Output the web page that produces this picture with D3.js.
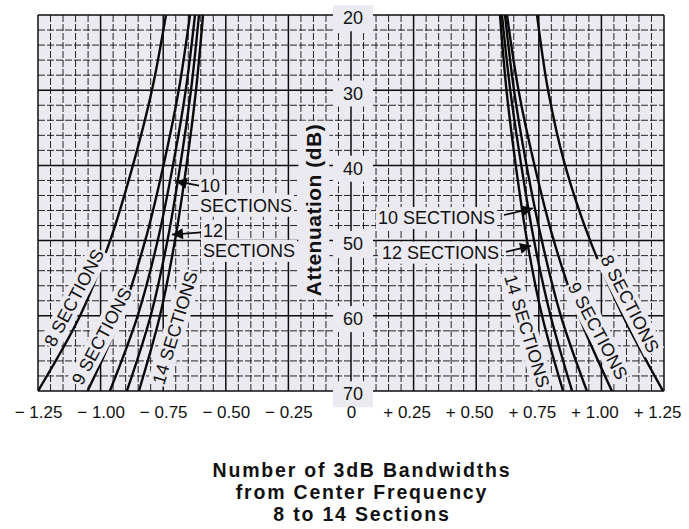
<!DOCTYPE html>
<html>
<head>
<meta charset="utf-8">
<title>Attenuation vs 3dB Bandwidths</title>
<script src="https://d3js.org/d3.v7.min.js"></script>
<style>
  body { margin: 0; background: #fff; }
  text { font-family: "Liberation Sans", Arial, Helvetica, sans-serif; fill: #111; }
</style>
</head>
<body>
<svg width="689" height="529"></svg>
<script>
// attenuation levels (dB) where each curve was read
var dBLevels = [20, 30, 40, 50, 60, 70];

// number of 3dB bandwidths from center, below center frequency
var lower8  = [-0.739, -0.795, -0.871, -0.962, -1.082, -1.250];
var lower9  = [-0.643, -0.688, -0.749, -0.822, -0.918, -1.052];
var lower10 = [-0.623, -0.660, -0.711, -0.772, -0.852, -0.963];
var lower12 = [-0.607, -0.639, -0.682, -0.733, -0.800, -0.895];
var lower14 = [-0.591, -0.619, -0.657, -0.703, -0.763, -0.847];

// ... and above center frequency
var upper8  = [0.743, 0.787, 0.855, 0.955, 1.086, 1.246];
var upper9  = [0.623, 0.669, 0.733, 0.810, 0.910, 1.042];
var upper10 = [0.615, 0.651, 0.701, 0.762, 0.838, 0.942];
var upper12 = [0.603, 0.636, 0.680, 0.731, 0.797, 0.883];
var upper14 = [0.595, 0.621, 0.658, 0.703, 0.763, 0.847];

var curves = [lower8, lower9, lower10, lower12, lower14,
              upper8, upper9, upper10, upper12, upper14];

var xTicks = [-1.25, -1, -0.75, -0.5, -0.25, 0, 0.25, 0.5, 0.75, 1, 1.25];
var xTickLabels = ["\u2212 1.25", "\u2212 1.00", "\u2212 0.75", "\u2212 0.50", "\u2212 0.25", "0",
                   "+ 0.25", "+ 0.50", "+ 0.75", "+ 1.00", "+ 1.25"];
var yTicks = [20, 30, 40, 50, 60, 70];
var titleLines = ["Number of 3dB Bandwidths", "from Center Frequency", "8 to 14 Sections"];
var yTitle = "Attenuation (dB)";

// rotated labels along the curves: text, bandwidths, dB, angle
var curveLabels = [
  ["8 SECTIONS", -1.106, 57.6, -62],
  ["9 SECTIONS", -0.996, 62.7, -62],
  ["14 SECTIONS", -0.703, 61.6, -73],
  ["14 SECTIONS", 0.703, 62.0, 73],
  ["9 SECTIONS", 0.986, 62.0, 62],
  ["8 SECTIONS", 1.114, 58.4, 63]
];

// arrow callouts: text lines and where they sit
var calloutText = [
  [["10", "SECTIONS"], -0.603, 43.5],
  [["12", "SECTIONS"], -0.591, 49.5],
  [["10 SECTIONS"], 0.108, 47.8],
  [["12 SECTIONS"], 0.124, 52.4]
];
// arrow start (bandwidths, dB) and tip (bandwidths, dB)
var calloutArrows = [
  [-0.607, 42.7, -0.700, 42.1],
  [-0.599, 48.9, -0.715, 49.2],
  [0.611, 46.6, 0.727, 45.7],
  [0.619, 51.5, 0.719, 50.7]
];

var bg = "#eceaf1";

var svg = d3.select("svg");

var x = d3.scaleLinear().domain([-1.25, 1.25]).range([38, 664]);
var y = d3.scaleLinear().domain([20, 70]).range([15, 391]);

// plot background
svg.append("rect")
    .attr("x", x(-1.25)).attr("y", y(20))
    .attr("width", x(1.25) - x(-1.25)).attr("height", y(70) - y(20))
    .attr("fill", bg);

// grid: 0.05 bandwidth by 2 dB, heavier every 0.25 and 10 dB
var grid = svg.append("g");
d3.range(-25, 26).forEach(function(i) {
    var major = i % 5 === 0;
    grid.append("line")
        .attr("x1", x(i * 0.05)).attr("x2", x(i * 0.05))
        .attr("y1", y(20)).attr("y2", y(70))
        .attr("stroke", "#0d0d0d")
        .attr("stroke-width", major ? 1.5 : 0.9)
        .attr("stroke-dasharray", major ? null : "7,2");
});
d3.range(20, 71, 2).forEach(function(d) {
    var major = d % 10 === 0;
    grid.append("line")
        .attr("x1", x(-1.25)).attr("x2", x(1.25))
        .attr("y1", y(d)).attr("y2", y(d))
        .attr("stroke", "#0d0d0d")
        .attr("stroke-width", major ? 1.5 : 0.9)
        .attr("stroke-dasharray", major ? null : "7,2");
});

// helper: text with a background patch that hides the grid
function maskedText(parent, str, tx, ty, angle, opts) {
    var g = parent.append("g")
        .attr("transform", "translate(" + tx + "," + ty + ") rotate(" + (angle || 0) + ")");
    var t = g.append("text")
        .text(str)
        .attr("text-anchor", opts.anchor || "start")
        .attr("dy", opts.dy || 0)
        .style("font-size", opts.size + "px")
        .style("font-weight", opts.weight || "normal")
        .style("letter-spacing", (opts.spacing || 0) + "px");
    var b = t.node().getBBox();
    var px = opts.padX == null ? 2 : opts.padX, py = opts.padY == null ? 2 : opts.padY;
    g.insert("rect", "text")
        .attr("x", b.x - px).attr("y", b.y - py)
        .attr("width", b.width + 2 * px).attr("height", b.height + 2 * py)
        .attr("fill", bg);
    return g;
}

// curves
svg.append("clipPath").attr("id", "plot")
  .append("rect")
    .attr("x", x(-1.25)).attr("y", y(20))
    .attr("width", x(1.25) - x(-1.25)).attr("height", y(70) - y(20));

var line = d3.line()
    .x(function(d) { return x(d[0]); })
    .y(function(d) { return y(d[1]); })
    .curve(d3.curveMonotoneY);

svg.append("g").attr("clip-path", "url(#plot)")
  .selectAll("path")
  .data(curves)
  .join("path")
    .attr("d", function(c) { return line(c.map(function(v, i) { return [v, dBLevels[i]]; })); })
    .attr("fill", "none")
    .attr("stroke", "#0a0a0a")
    .attr("stroke-width", 2.4);

// y tick labels in the middle
var labels = svg.append("g");
yTicks.forEach(function(d) {
    maskedText(labels, d, 353, y(d) + 3, 0,
        {anchor: "middle", dy: "0.35em", size: 18, padX: 10, padY: 3});
});

// y title
maskedText(labels, yTitle, 314, 210, -90,
    {anchor: "middle", dy: "0.35em", size: 21, weight: "bold", spacing: 0.5, padX: 3, padY: 4});

// rotated curve labels
curveLabels.forEach(function(c) {
    maskedText(labels, c[0], x(c[1]), y(c[2]), c[3],
        {anchor: "middle", dy: "0.35em", size: 18, padX: 1, padY: 1});
});

// callouts
calloutText.forEach(function(c) {
    c[0].forEach(function(s, k) {
        maskedText(labels, s, x(c[1]), y(c[2]) + k * 20, 0, {size: 18, padX: 2, padY: 1});
    });
});

svg.append("defs").append("marker")
    .attr("id", "head")
    .attr("viewBox", "0 0 10 10")
    .attr("refX", 10).attr("refY", 5)
    .attr("markerWidth", 15).attr("markerHeight", 11)
    .attr("markerUnits", "userSpaceOnUse")
    .attr("orient", "auto")
  .append("path")
    .attr("d", "M0,0L10,5L0,10Z")
    .attr("fill", "#0a0a0a");

svg.append("g").selectAll("line")
  .data(calloutArrows)
  .join("line")
    .attr("x1", function(a) { return x(a[0]); })
    .attr("y1", function(a) { return y(a[1]); })
    .attr("x2", function(a) { return x(a[2]); })
    .attr("y2", function(a) { return y(a[3]); })
    .attr("stroke", "#0a0a0a")
    .attr("stroke-width", 1.7)
    .attr("marker-end", "url(#head)");

// x axis labels
var xAxis = svg.append("g")
    .attr("transform", "translate(0," + y(70) + ")")
    .call(d3.axisBottom(x)
        .tickValues(xTicks)
        .tickFormat(function(d, i) { return xTickLabels[i]; })
        .tickSize(0)
        .tickPadding(15));
xAxis.select(".domain").remove();
xAxis.selectAll("text")
    .attr("dx", function(d) { return d > 0 ? -7 : 0; })
    .style("font-family", "Liberation Sans, Arial, sans-serif")
    .style("font-size", "17px")
    .attr("fill", "#111");

// title
svg.append("g").selectAll("text")
  .data(titleLines)
  .join("text")
    .attr("x", 362)
    .attr("y", function(d, i) { return 477 + i * 22; })
    .attr("text-anchor", "middle")
    .style("font-size", "19.5px")
    .style("font-weight", "bold")
    .style("letter-spacing", "1.8px")
    .text(function(d) { return d; });
</script>
</body>
</html>
